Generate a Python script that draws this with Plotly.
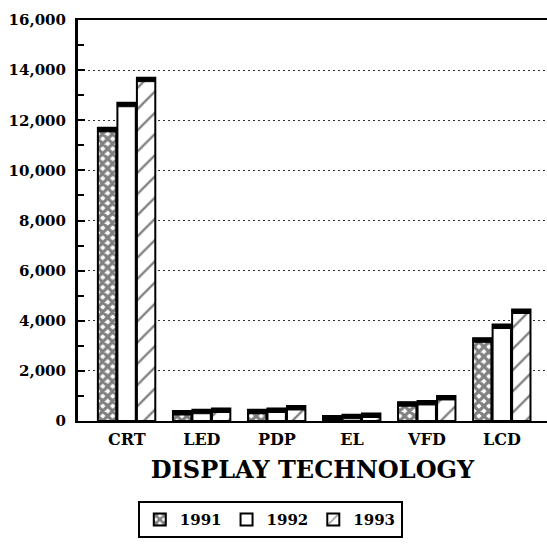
import plotly.graph_objects as go

categories = ["CRT", "LED", "PDP", "EL", "VFD", "LCD"]
years = ["1991", "1992", "1993"]
values_1991 = [11700, 400, 450, 200, 750, 3300]
values_1992 = [12700, 450, 500, 250, 800, 3850]
values_1993 = [13700, 500, 600, 300, 1000, 4450]
y_ticks = [0, 2000, 4000, 6000, 8000, 10000, 12000, 14000, 16000]

series = [values_1991, values_1992, values_1993]
patterns = [
    dict(shape="x", size=7, solidity=0.7, fgcolor="black", bgcolor="white"),
    dict(shape="", fgcolor="black", bgcolor="white"),
    dict(shape="/", size=15, solidity=0.15, fgcolor="black", bgcolor="white"),
]

serif = "DejaVu Serif"
bar_w = 0.245
offsets = [-0.385, -0.125, 0.135]
cap = 160  # thickness of the dark top cap, in data units

fig = go.Figure()
for name, vals, pat, off in zip(years, series, patterns, offsets):
    fig.add_trace(go.Bar(
        name=name, x=categories, y=vals,
        offset=off, width=bar_w,
        marker=dict(color="white", pattern=pat,
                    line=dict(color="black", width=2)),
    ))
    # dark top edge giving the bars their raised look
    fig.add_trace(go.Bar(
        x=categories, y=[cap] * len(vals), base=[v - cap for v in vals],
        offset=off, width=bar_w, showlegend=False, hoverinfo="skip",
        marker=dict(color="black", line=dict(color="black", width=1)),
    ))

fig.update_layout(
    width=547, height=548,
    margin=dict(l=78, r=0, t=20, b=127),
    barmode="overlay",
    plot_bgcolor="white", paper_bgcolor="white",
    font=dict(family=serif, color="black"),
    legend=dict(
        orientation="h", x=0.41, xanchor="center", y=-0.2, yanchor="top",
        bordercolor="black", borderwidth=2,
        font=dict(family=serif, size=15, weight="bold"),
        itemwidth=30,
    ),
)
fig.update_xaxes(
    range=[-0.65, 5.6],
    showline=True, linecolor="black", linewidth=2, mirror=True,
    ticks="", showgrid=False,
    ticklabelstandoff=3,
    tickfont=dict(family=serif, size=16, weight="bold"),
    title=dict(text="DISPLAY TECHNOLOGY",
               font=dict(family=serif, size=24, weight="bold"), standoff=13),
)
fig.update_yaxes(
    range=[0, 16000], tickvals=y_ticks,
    tickformat=",d",
    showline=True, linecolor="black", linewidth=3,
    ticks="inside", ticklen=7, tickwidth=2, tickcolor="black",
    minor=dict(dtick=1000, ticks="inside", ticklen=6, tickwidth=2,
               tickcolor="black", showgrid=False),
    showgrid=True, gridcolor="#333333", gridwidth=1, griddash="2px,3px",
    zeroline=False,
    ticklabelstandoff=6,
    tickfont=dict(family=serif, size=15, weight="bold"),
)

fig.write_html("out.html")
